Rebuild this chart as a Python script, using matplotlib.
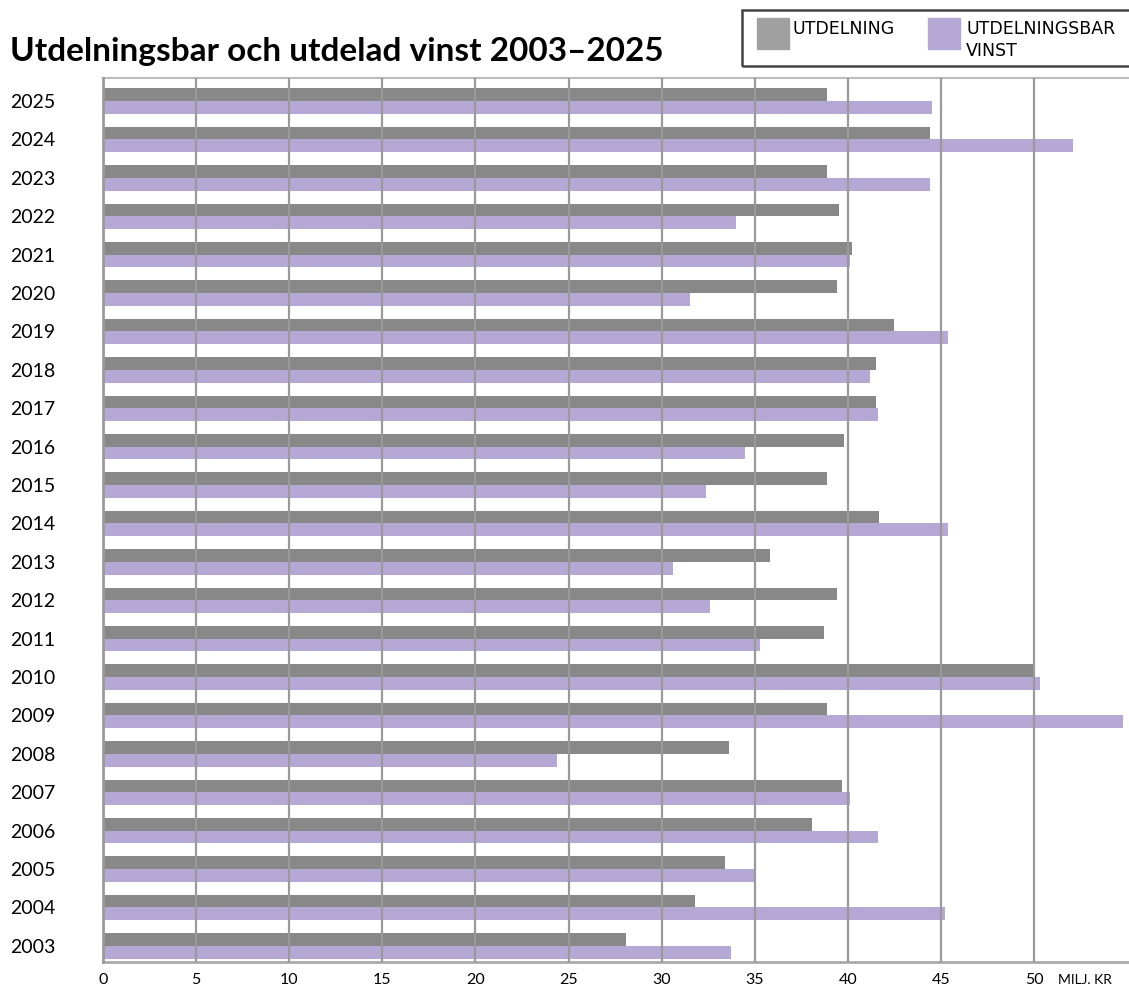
import matplotlib.pyplot as plt
import matplotlib.patches as mpatches
import numpy as np

years = [2003, 2004, 2005, 2006, 2007, 2008, 2009, 2010, 2011, 2012, 2013,
         2014, 2015, 2016, 2017, 2018, 2019, 2020, 2021, 2022, 2023, 2024, 2025]
utdelning = [28.1, 31.8, 33.4, 38.1, 39.7, 33.6, 38.9, 50.0, 38.7, 39.4, 35.8,
             41.7, 38.9, 39.8, 41.5, 41.5, 42.5, 39.4, 40.2, 39.5, 38.9, 44.4, 38.9]
utd_vinst = [33.7, 45.2, 35.0, 41.6, 40.1, 24.4, 54.8, 50.3, 35.3, 32.6, 30.6,
             45.4, 32.4, 34.5, 41.6, 41.2, 45.4, 31.5, 40.1, 34.0, 44.4, 52.1, 44.5]
xticks = [0, 5, 10, 15, 20, 25, 30, 35, 40, 45, 50]

gray = '#888888'
purple = '#b5a8d4'
grid = '#9a9a9a'

fig = plt.figure(figsize=(11.29, 9.89), dpi=100)
ax = fig.add_axes([103/1129, 1 - 962/989, 1026/1129, (962-78)/989])

y = np.arange(len(years))
h = 0.33
ax.barh(y + h/2, utdelning, height=h, color=gray, zorder=1)
ax.barh(y - h/2, utd_vinst, height=h, color=purple, zorder=1)

ax.set_xlim(0, 55.1)
ax.set_ylim(-0.42, 22.6)

for x in xticks[1:]:
    ax.axvline(x, color=grid, lw=1.6, zorder=3)

ax.spines['right'].set_visible(False)
ax.spines['left'].set_color(grid)
ax.spines['left'].set_linewidth(2)
ax.spines['left'].set_zorder(4)
ax.spines['top'].set_color('#bbbbbb')
ax.spines['top'].set_linewidth(1.5)
ax.spines['bottom'].set_color('#aaaaaa')
ax.spines['bottom'].set_linewidth(2)

ax.set_xticks(xticks)
ax.set_xticklabels([str(v) for v in xticks], fontsize=11.5, family='Lato')
ax.set_yticks(y)
ax.set_yticklabels([str(v) for v in years], fontsize=14, family='Lato')
ax.tick_params(axis='x', length=0, pad=8)
ax.tick_params(axis='y', length=0, pad=67)
for lbl in ax.get_yticklabels():
    lbl.set_horizontalalignment('left')

fig.text(1058/1129, 1 - 980/989, 'MILJ. KR', fontsize=10, family='Lato',
         va='center', ha='left')

fig.text(10/1129, 1 - 52/989, 'Utdelningsbar och utdelad vinst 2003\u20132025',
         fontsize=24, fontweight='bold', family='Lato', va='center', ha='left')

# legend box
fig.patches.append(mpatches.Rectangle((742/1129, 1 - 66/989), 390/1129, 56/989,
                                      transform=fig.transFigure, fill=False,
                                      edgecolor='#444444', lw=1.8))
fig.patches.append(mpatches.Rectangle((757/1129, 1 - 49/989), 32/1129, 31/989,
                                      transform=fig.transFigure, color='#a0a0a0'))
fig.patches.append(mpatches.Rectangle((928/1129, 1 - 49/989), 32/1129, 31/989,
                                      transform=fig.transFigure, color=purple))
fig.text(793/1129, 1 - 29/989, 'UTDELNING', fontsize=12.5,
         family='Liberation Sans Narrow', va='center', ha='left')
fig.text(966/1129, 1 - 40/989, 'UTDELNINGSBAR\nVINST', fontsize=12.5,
         family='Liberation Sans Narrow', va='center', ha='left', linespacing=1.25)

fig.savefig('out.png', dpi=100)
